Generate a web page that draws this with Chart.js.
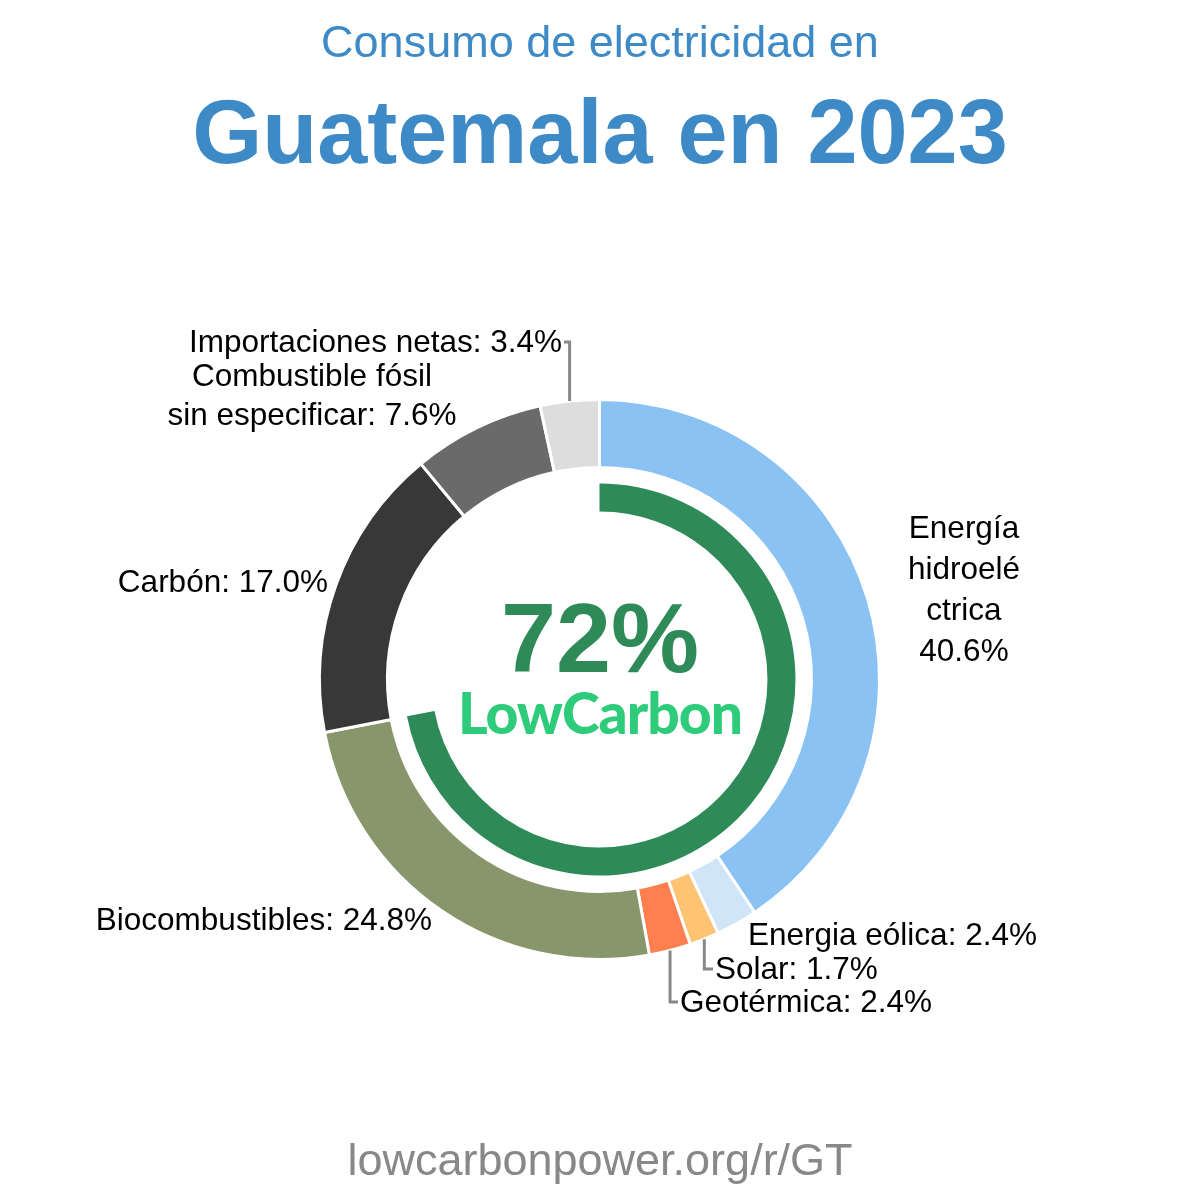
<!DOCTYPE html>
<html>
<head>
<meta charset="utf-8">
<script src="https://cdn.jsdelivr.net/npm/chart.js@4"></script>
<style>
  html, body { margin: 0; padding: 0; background: #fff; }
  #wrap { position: relative; width: 1200px; height: 1200px; overflow: hidden;
          font-family: "Liberation Sans", Arial, sans-serif; }
  #wrap canvas { position: absolute; left: 0; top: 0; }
  .t { position: absolute; white-space: nowrap; line-height: 1; }
  .lbl { font-size: 31.5px; color: #000; }
  .sub { left: 0; width: 1200px; text-align: center; top: 19px; font-size: 45px; color: #3e8ac6; }
  .big { left: 0; width: 1200px; text-align: center; top: 87px; font-size: 90px; font-weight: bold; color: #3e8ac6; }
  .foot { left: 0; width: 1200px; text-align: center; top: 1137px; font-size: 45px; color: #888; }
  .pct { left: 0; width: 1200px; text-align: center; top: 588px; font-size: 99px; font-weight: bold; color: #2e8b57; }
  .lc { left: 0; width: 1200px; text-align: center; top: 684px; font-size: 57px; font-weight: 900;
        font-family: Lato, "Liberation Sans", sans-serif; color: #2ecc7a; letter-spacing: -1px; }
</style>
</head>
<body>
<div id="wrap">
  <canvas id="c" width="1200" height="1200"></canvas>
  <div class="t sub">Consumo de electricidad en</div>
  <div class="t big">Guatemala en 2023</div>
  <div class="t pct">72%</div>
  <div class="t lc">LowCarbon</div>
  <div class="t foot">lowcarbonpower.org/r/GT</div>
</div>
<script>
// electricity mix, clockwise from the top
const sources = ["Energía hidroeléctrica", "Energia eólica", "Solar", "Geotérmica",
                 "Biocombustibles", "Carbón", "Combustible fósil sin especificar", "Importaciones netas"];
const shares = [40.6, 2.4, 1.7, 2.4, 24.8, 17.0, 7.6, 3.4];
const colors = ["#89c2f3", "#d0e5f7", "#ffc473", "#ff7f4f", "#88966b", "#383838", "#6a6a6a", "#dddddd"];
const lowCarbonShare = 72;

// label text + placement; lead = draw a bent leader line to the label
const labels = [
  { i: 0, lines: ["Energía", "hidroelé", "ctrica", "40.6%"], x: 964, y: 507, align: "center", lh: 41 },
  { i: 1, lines: ["Energia eólica: 2.4%"], x: 748, y: 917, align: "left" },
  { i: 2, lines: ["Solar: 1.7%"], x: 715, y: 951, align: "left", lead: true },
  { i: 3, lines: ["Geotérmica: 2.4%"], x: 680, y: 984, align: "left", lead: true },
  { i: 4, lines: ["Biocombustibles: 24.8%"], x: 432, y: 902, align: "right" },
  { i: 5, lines: ["Carbón: 17.0%"], x: 328, y: 564, align: "right" },
  { i: 6, lines: ["Combustible fósil", "sin especificar: 7.6%"], x: 312, y: 356, align: "center", lh: 39 },
  { i: 7, lines: ["Importaciones netas: 3.4%"], x: 562, y: 324, align: "right", lead: true },
];

const wrap = document.getElementById("wrap");
labels.forEach(l => {
  const d = document.createElement("div");
  d.className = "t lbl";
  d.style.top = l.y + "px";
  d.style.lineHeight = (l.lh || 34) + "px";
  d.style.textAlign = l.align;
  d.innerHTML = l.lines.join("<br>");
  if (l.align === "left") d.style.left = l.x + "px";
  else if (l.align === "right") d.style.right = (1200 - l.x) + "px";
  else { d.style.left = (l.x - 200) + "px"; d.style.width = "400px"; }
  wrap.appendChild(d);
});

// bent gray leader lines from the outer edge of a slice to its label
const leaders = {
  id: "leaders",
  afterDatasetsDraw(chart) {
    const ctx = chart.ctx;
    const arcs = chart.getDatasetMeta(0).data;
    ctx.save();
    ctx.strokeStyle = "#888";
    ctx.lineWidth = 3;
    labels.filter(l => l.lead).forEach(l => {
      const a = arcs[l.i];
      const mid = (a.startAngle + a.endAngle) / 2;
      const r = a.outerRadius;
      const x0 = a.x + Math.cos(mid) * r;
      const y0 = a.y + Math.sin(mid) * r;
      const ly = l.y + 18;
      const lx = l.align === "left" ? l.x - 2 : l.x + 2;
      ctx.beginPath();
      ctx.moveTo(x0, y0);
      ctx.lineTo(x0, ly);
      ctx.lineTo(lx, ly);
      ctx.stroke();
    });
    ctx.restore();
  }
};

new Chart(document.getElementById("c"), {
  type: "doughnut",
  data: {
    labels: sources,
    datasets: [
      { data: shares, backgroundColor: colors, borderColor: "#fff", borderWidth: 3, weight: 68 },
      { data: [1], backgroundColor: "rgba(0,0,0,0)", borderWidth: 0, weight: 16 },
      { data: [lowCarbonShare, 100 - lowCarbonShare], backgroundColor: ["#2e8b57", "rgba(0,0,0,0)"],
        borderWidth: 0, weight: 28 },
    ],
  },
  options: {
    responsive: false,
    animation: false,
    cutout: 168,
    offset: 0,
    hoverOffset: 0,
    layout: { padding: { left: 318, right: 319, top: 398, bottom: 239 } },
    plugins: { legend: { display: false }, tooltip: { enabled: false } },
  },
  plugins: [leaders],
});
</script>
</body>
</html>
